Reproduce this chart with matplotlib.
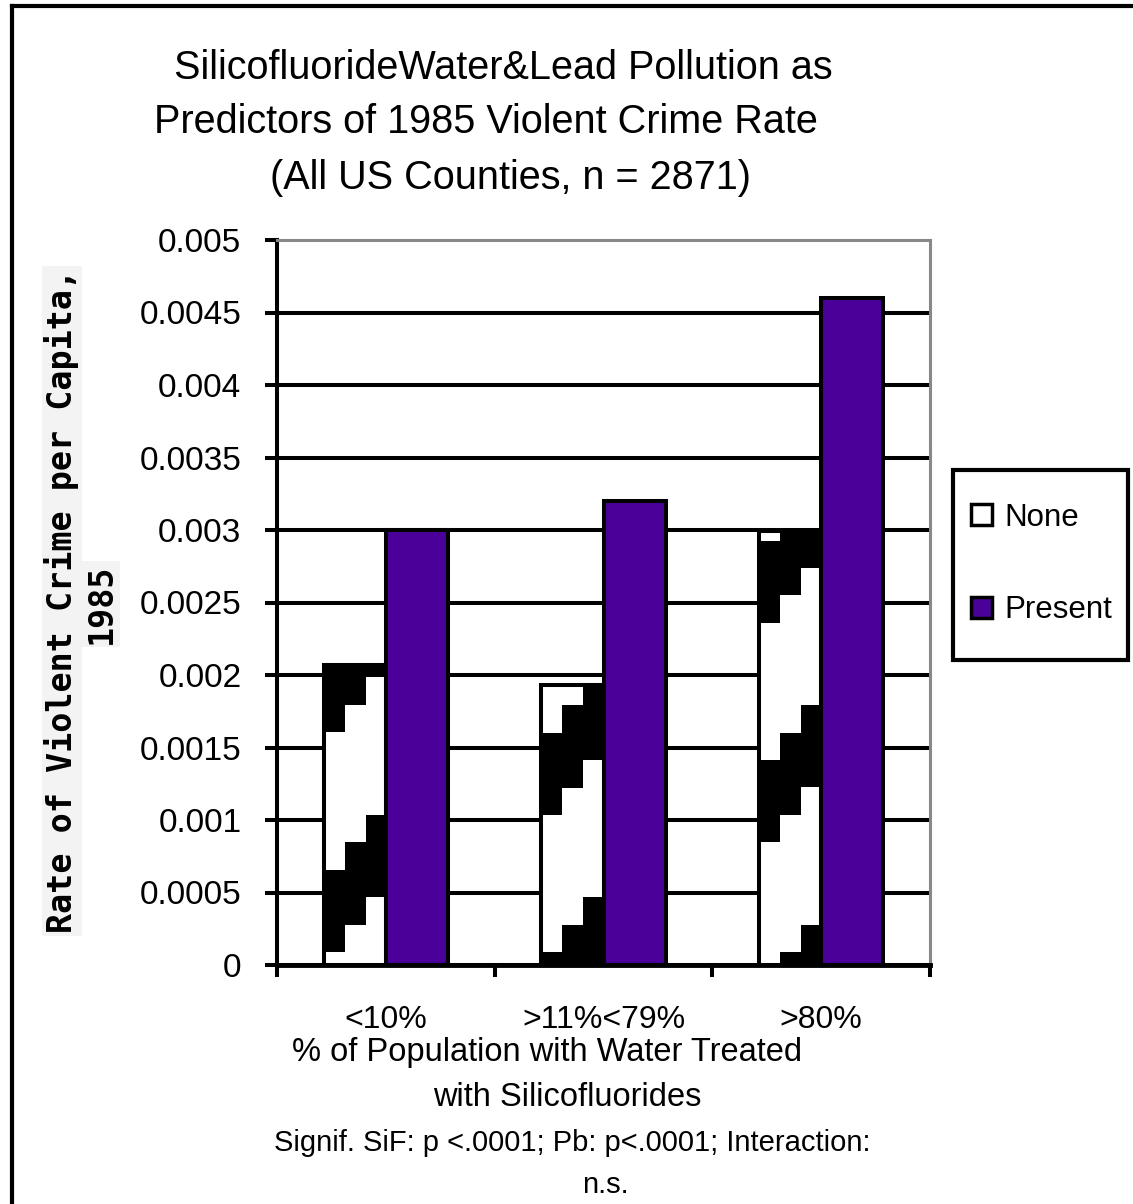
import numpy as np
import matplotlib
matplotlib.use("Agg")
import matplotlib.pyplot as plt
from matplotlib.patches import Rectangle, Patch
from matplotlib.lines import Line2D

# ---------------- data ----------------
categories = ['<10%', '>11%<79%', '>80%']
series_labels = ['None', 'Present']
none_values = [0.00207, 0.00193, 0.00299]
present_values = [0.0030, 0.0032, 0.0046]
ytick_values = [0, 0.0005, 0.001, 0.0015, 0.002, 0.0025, 0.003, 0.0035, 0.004, 0.0045, 0.005]
ytick_labels = ['0', '0.0005', '0.001', '0.0015', '0.002', '0.0025', '0.003', '0.0035',
                '0.004', '0.0045', '0.005']
title_lines = ['SilicofluorideWater&Lead Pollution as',
               'Predictors of 1985 Violent Crime Rate',
               '(All US Counties, n = 2871)']
xlabel_lines = ['% of Population with Water Treated', 'with Silicofluorides']
ylabel_lines = ['Rate of Violent Crime per Capita,', '1985']
note_lines = ['Signif. SiF: p <.0001; Pb: p<.0001; Interaction:', 'n.s.']

# ---------------- style ----------------
plt.rcParams['font.family'] = ['Liberation Sans', 'DejaVu Sans']
PURPLE = '#4a0099'
W, H = 1133, 1204
fx = lambda px: px / W
fy = lambda py: 1 - py / H

fig = plt.figure(figsize=(W / 100, H / 100), dpi=100)
ax = fig.add_axes([fx(277), fy(965), (930 - 277) / W, (965 - 240) / H])

x = np.arange(len(categories))
bw = 0.285
off = 0.1425

none_bars = ax.bar(x - off, none_values, bw, facecolor='none', edgecolor='black',
                   linewidth=2.9, zorder=3)
present_bars = ax.bar(x + off, present_values, bw, facecolor=PURPLE, edgecolor='black',
                      linewidth=2.9, zorder=3)


def stripe_image(axis, rect, top, phase):
    h = 0.000189
    y0 = 0.0000897
    jmax = int(np.floor((top - y0) / h))
    rows = np.arange(-1, jmax + 1)
    cols = np.arange(3)
    k = (cols[None, :] - rows[:, None] + phase) % 8
    arr = np.where(k <= 2, 0.0, 1.0)
    x0 = rect.get_x()
    x1 = x0 + rect.get_width()
    im = axis.imshow(arr, cmap='gray', vmin=0, vmax=1, origin='lower',
                     extent=(x0, x1, y0 - h, y0 + (jmax + 1) * h), aspect='auto',
                     interpolation='nearest', zorder=2.5)
    im.set_clip_path(rect)


for rect, val, ph in zip(none_bars, none_values, [2, 7, 6]):
    stripe_image(ax, rect, val, ph)

ax.set_xlim(-0.5, 2.5)
ax.set_ylim(0, 0.005)

# y axis
ax.set_yticks(ytick_values)
ax.set_yticklabels(ytick_labels, fontsize=24)
ax.tick_params(axis='y', direction='out', length=8.6, width=2.9, pad=17, colors='black')
ax.yaxis.grid(True, color='black', linewidth=2.9)
ax.set_axisbelow(True)
ax.get_ygridlines()[-1].set_visible(False)

# x axis
ax.set_xticks([-0.5, 0.5, 1.5, 2.5])
ax.set_xticklabels([])
ax.set_xticks(x, minor=True)
ax.set_xticklabels(categories, minor=True, fontsize=23)
ax.tick_params(axis='x', which='major', direction='out', length=8.6, width=2.9)
ax.tick_params(axis='x', which='minor', length=0, pad=29)

for s in ['top', 'right']:
    ax.spines[s].set_color('#888888')
    ax.spines[s].set_linewidth(2.2)
ax.spines['left'].set_linewidth(2.9)
ax.spines['bottom'].set_linewidth(3.5)

# titles / labels
for line, px, py in zip(title_lines, [503, 486, 510], [68, 122, 178]):
    fig.text(fx(px), fy(py), line, ha='center', va='center', fontsize=28.5)

for line, px, py in zip(xlabel_lines, [547, 567], [1053, 1097]):
    fig.text(fx(px), fy(py), line, ha='center', va='center', fontsize=23.5)

for line, px, py in zip(note_lines, [572, 605], [1143, 1185]):
    fig.text(fx(px), fy(py), line, ha='center', va='center', fontsize=21)

for line, px, py in zip(ylabel_lines, [62, 101], [601, 604]):
    fig.text(fx(px), fy(py), line, ha='center', va='center', rotation=90,
             fontsize=24, family='DejaVu Sans Mono', fontweight='bold',
             bbox=dict(facecolor='#f3f3f3', edgecolor='none', pad=2))

# legend
handles = [Patch(facecolor='white', edgecolor='black', linewidth=2.5),
           Patch(facecolor=PURPLE, edgecolor='black', linewidth=2.5)]
fig.legend(handles, series_labels, loc='center', bbox_to_anchor=(fx(1042), fy(564)),
           frameon=False, fontsize=22.5, labelspacing=2.0, handlelength=0.65,
           handleheight=0.65, handletextpad=0.42, borderpad=0)
fig.add_artist(Rectangle((fx(953), fy(660)), (1128 - 953) / W, (660 - 470) / H,
                         transform=fig.transFigure, fill=False, edgecolor='black',
                         linewidth=3))

# outer frame (top and left edges visible)
fig.add_artist(Line2D([fx(12), 1], [fy(6), fy(6)], transform=fig.transFigure,
                      color='black', linewidth=3))
fig.add_artist(Line2D([fx(12), fx(12)], [fy(6), 0], transform=fig.transFigure,
                      color='black', linewidth=3))

fig.savefig('out.png', dpi=100)
